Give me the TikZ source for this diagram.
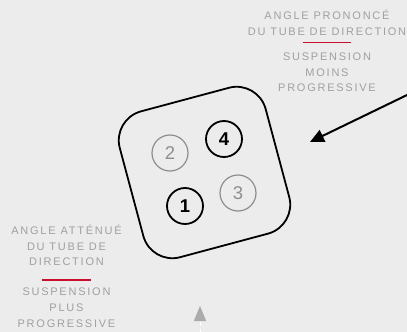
\documentclass[tikz,border=0pt]{standalone}
\usepackage{fontspec}
\setmainfont{Liberation Sans}
\newfontfamily\spaced[LetterSpace=16]{Liberation Sans}
\usetikzlibrary{arrows.meta}
\definecolor{bg}{HTML}{ECECEC}
\definecolor{lblgrey}{HTML}{A0A0A0}
\definecolor{accent}{HTML}{C8102E}
\definecolor{dim}{HTML}{8E8E8E}
\definecolor{tipgrey}{HTML}{ABABAB}
\begin{document}
\begin{tikzpicture}[x=1pt,y=-1pt,
  txt/.style={font=\spaced\fontsize{11}{12}\selectfont, text=lblgrey, anchor=base, inner sep=0pt},
  rule/.style={accent, line width=1.5pt},
  pad/.style={draw, rectangle, rounded corners=30pt, minimum size=151pt, rotate=15, line width=1.8pt},
  cellon/.style={circle, draw, line width=1.8pt, minimum size=36pt, inner sep=0pt, font=\bfseries\fontsize{18.5}{18.5}\selectfont},
  celloff/.style={circle, draw=dim, text=dim, line width=1.2pt, minimum size=36pt, inner sep=0pt, font=\fontsize{18.5}{18.5}\selectfont},
  pointer/.style={line width=2pt, -{Triangle[length=14pt,width=13pt]}}
]
\fill[bg] (0,0) rectangle (407,332);
\useasboundingbox (0,0) rectangle (407,332);

% top-right caption
\node[txt] (tr1) at (327,19.2) {ANGLE PRONONCÉ};
\node[txt] (tr2) at (327,35.4) {DU TUBE DE DIRECTION};
\coordinate (trr1) at (303,42.7);
\coordinate (trr2) at (351,42.7);
\draw[rule] (trr1) -- (trr2);
\node[txt] (tr3) at (327,60.7) {SUSPENSION};
\node[txt] (tr4) at (327,76) {MOINS};
\node[txt] (tr5) at (327,91.8) {PROGRESSIVE};

% left caption
\node[txt] (l1) at (66.5,234.2) {ANGLE ATTÉNUÉ};
\node[txt] (l2) at (66.5,250) {DU TUBE DE};
\node[txt] (l3) at (66.5,265.2) {DIRECTION};
\coordinate (lr1) at (42,280);
\coordinate (lr2) at (91,280);
\draw[rule] (lr1) -- (lr2);
\node[txt] (l4) at (66.5,295.8) {SUSPENSION};
\node[txt] (l5) at (66.5,311.7) {PLUS};
\node[txt] (l6) at (66.5,327.5) {PROGRESSIVE};

% pad
\node[pad] (pad) at (204.5,172.5) {};
\node[celloff] (c2) at (170,153) {2};
\node[cellon]  (c4) at (224,139) {4};
\node[cellon]  (c1) at (185,206) {1};
\node[celloff] (c3) at (238,193) {3};

% pointer
\coordinate (a0) at (412,92.6);
\coordinate (a1) at (310,142);
\draw[pointer] (a0) -- (a1);

% bottom grey arrow
\coordinate (b0) at (200,333);
\coordinate (b1) at (200,321);
\draw[white, line width=1pt, dash pattern=on 4pt off 3pt] (b0) -- (b1);
\coordinate (bt) at (200,306);
\fill[tipgrey] (bt) -- (206.2,321) -- (193.8,321) -- cycle;
\end{tikzpicture}
\end{document}
